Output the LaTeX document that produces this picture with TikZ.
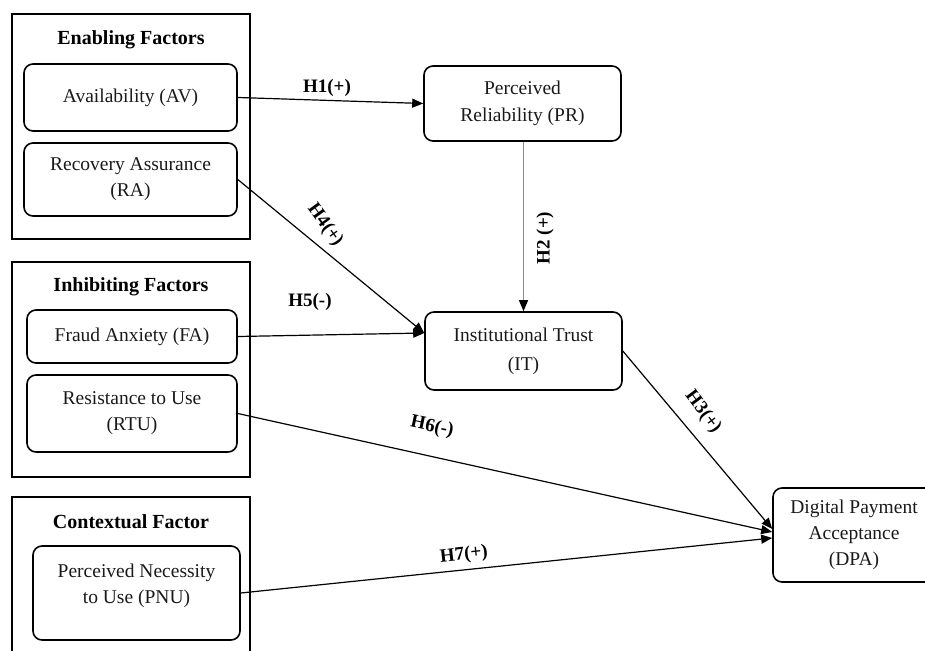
\documentclass[tikz,border=0pt]{standalone}
\usepackage{fontspec}
\setmainfont{Liberation Serif}
\usetikzlibrary{arrows.meta}
\begin{document}
\begin{tikzpicture}[x=1pt,y=-1pt,
  groupbox/.style={draw, line width=1.6pt, minimum width=238pt, inner sep=0pt},
  factor/.style={draw, line width=1.6pt, rounded corners=9pt, align=center,
    font=\fontsize{19.5}{26}\selectfont, text=black!90, inner sep=0pt},
  construct/.style={factor, minimum width=197pt, minimum height=77pt},
  grouptitle/.style={font=\bfseries\fontsize{20}{24}\selectfont},
  link/.style={line width=1.2pt, -{Triangle[length=11pt,width=9pt,color=black]}},
  hyp/.style={font=\bfseries\fontsize{19}{22}\selectfont, inner sep=0pt}]

\useasboundingbox (0,0) rectangle (925,650);
\clip (0,0) rectangle (925,650);

% factor groups
\node[groupbox, minimum height=225pt] (enabling) at (131,126.5) {};
\node[grouptitle] (enablingT) at (131,40) {Enabling Factors};
\node[factor, minimum width=213pt, minimum height=67pt] (AV) at (130.5,97.5) {Availability (AV)};
\node[factor, minimum width=213pt, minimum height=73pt] (RA) at (130.5,179.5) {Recovery Assurance\\(RA)};

\node[groupbox, minimum height=215pt] (inhibiting) at (131,369.5) {};
\node[grouptitle] (inhibitingT) at (131,287) {Inhibiting Factors};
\node[factor, minimum width=210pt, minimum height=53pt] (FA) at (132,336.5) {Fraud Anxiety (FA)};
\node[factor, minimum width=210pt, minimum height=77pt] (RTU) at (132,413.5) {Resistance to Use\\(RTU)};

\node[groupbox, minimum height=163pt] (contextual) at (131,578.5) {};
\node[grouptitle] (contextualT) at (131,522) {Contextual Factor};
\node[factor, minimum width=207pt, minimum height=94pt] (PNU) at (136.5,593) {};
\node[font=\fontsize{19.5}{26}\selectfont, text=black!90, align=center] (PNUt) at (136.5,586) {Perceived Necessity\\to Use (PNU)};

% mediating and outcome constructs
\node[construct, minimum height=75pt, font=\fontsize{19.5}{27}\selectfont] (PR) at (522.5,103.5) {Perceived\\Reliability (PR)};
\node[construct, minimum height=78pt, font=\fontsize{19.5}{29}\selectfont] (IT) at (523.5,351) {Institutional Trust\\(IT)};
\node[construct, minimum width=162pt, minimum height=94pt] (DPA) at (854,535) {Digital Payment\\Acceptance\\(DPA)};

% hypothesised paths
\draw[link] (AV.east) -- (PR.west);
\draw[link, draw=black!45] (PR.south -| IT.north) -- (IT.north);
\draw[link] (RA.east) -- ([yshift=18pt]IT.west);
\draw[link] (FA.east) -- ([yshift=18pt]IT.west);
\draw[link] (IT.east) -- ([yshift=6pt]DPA.west);
\draw[link] (RTU.east) -- ([yshift=3pt]DPA.west);
\draw[link] (PNU.east) -- ([yshift=-3pt]DPA.west);

% path labels
\node[hyp] (h1) at (327,88) {H1(+)};
\node[hyp, rotate=90] (h2) at (545,238) {H2 (+)};
\node[hyp, rotate=-53] (h3) at (703,412) {H3(+)};
\node[hyp, rotate=-54] (h4) at (325,225) {H4(+)};
\node[hyp] (h5) at (310,302) {H5(-)};
\node[hyp, rotate=-12] (h6) at (432,427) {H6(-)};
\node[hyp, rotate=6] (h7) at (464,555) {H7(+)};
\end{tikzpicture}
\end{document}
